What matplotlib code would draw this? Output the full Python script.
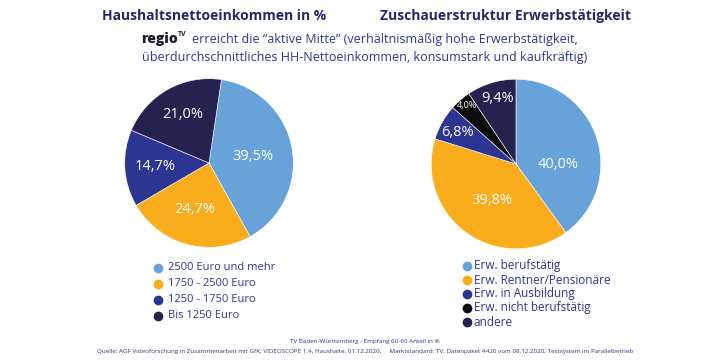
import math
import matplotlib
matplotlib.use("Agg")
import matplotlib.pyplot as plt

W, H = 728, 360

# data
income_labels = ["2500 Euro und mehr", "1750 - 2500 Euro", "1250 - 1750 Euro", "Bis 1250 Euro"]
income_values = [39.5, 24.7, 14.7, 21.0]
income_text = ["39,5%", "24,7%", "14,7%", "21,0%"]

job_labels = ["Erw. berufstätig", "Erw. Rentner/Pensionäre", "Erw. in Ausbildung",
              "Erw. nicht berufstätig", "andere"]
job_values = [40.0, 39.8, 6.8, 4.0, 9.4]
job_text = ["40,0%", "39,8%", "6,8%", "4,0%", "9,4%"]

LIGHT = "#67a3d8"
ORANGE = "#f9ad1c"
BLUE = "#2c3591"
NAVY = "#25224f"
BLACK = "#0b0b0b"
TITLE = "#1f2a6c"
TEXT = "#2e3590"

plt.rcParams['font.family'] = ['Open Sans', 'DejaVu Sans']

fig = plt.figure(figsize=(W / 100, H / 100), dpi=100)
fig.patch.set_facecolor("white")


def px(x, y):
    return x / W, 1 - y / H


def pie(cx, cy, r, values, colors, texts, start, dists, offs, sizes):
    ax = fig.add_axes([(cx - r) / W, 1 - (cy + r) / H, 2 * r / W, 2 * r / H])
    wedges, _ = ax.pie(values, colors=colors, startangle=start, counterclock=False,
                       radius=1, wedgeprops=dict(edgecolor="white", linewidth=0.4))
    ax.set_xlim(-1.02, 1.02)
    ax.set_ylim(-1.02, 1.02)
    ax.axis("off")
    for w, t, d, o, s in zip(wedges, texts, dists, offs, sizes):
        mid = math.radians((w.theta1 + w.theta2) / 2 + o)
        ax.text(d * math.cos(mid), d * math.sin(mid), t, color="white",
                fontsize=s, ha="center", va="center")
    return ax


pie(209, 163, 86, income_values, [LIGHT, ORANGE, BLUE, NAVY], income_text, 81.5,
    [0.53, 0.58, 0.64, 0.66], [-2, -1, 0, -1], [10.5, 10.5, 10.5, 10.5])
pie(516, 164, 86.5, job_values, [LIGHT, ORANGE, BLUE, BLACK, NAVY], job_text, 90,
    [0.5, 0.51, 0.79, 0.9, 0.8], [-19, 2, 1, -1, -1], [10.5, 10.5, 10.5, 6.5, 10.5])

# titles
fig.text(*px(214, 16), "Haushaltsnettoeinkommen in %", ha="center", va="center",
         fontsize=10, fontweight="bold", color=TITLE)
fig.text(*px(505, 16), "Zuschauerstruktur Erwerbstätigkeit", ha="center", va="center",
         fontsize=10, fontweight="bold", color=TITLE)

# subtitle with the regio logo
logo = fig.text(*px(141, 39), "regio", ha="left", va="center", fontsize=10,
                fontweight="heavy", color="#1c1c30")
fig.canvas.draw()
ext = logo.get_window_extent()
fig.text(ext.x1 / W, 1 - 34 / H, "TV", ha="left", va="center", fontsize=5,
         fontweight="bold", color="#1c1c30")
fig.text(*px(192, 39), "erreicht die “aktive Mitte” (verhältnismäßig hohe Erwerbstätigkeit,",
         ha="left", va="center", fontsize=9, color=TEXT)
fig.text(*px(142, 58), "überdurchschnittliches HH-Nettoeinkommen, konsumstark und kaufkräftig)",
         ha="left", va="center", fontsize=9, color=TEXT)

# legends
for i, (lab, c) in enumerate(zip(income_labels, [LIGHT, ORANGE, BLUE, NAVY])):
    y = 268 + i * 16
    fig.lines.append(plt.Line2D([px(158, y)[0]], [px(158, y)[1]], marker="o",
                                markersize=6, color=c, transform=fig.transFigure))
    fig.text(*px(168, y), lab, ha="left", va="center", fontsize=8, color=TEXT)

for i, (lab, c) in enumerate(zip(job_labels, [LIGHT, ORANGE, BLUE, BLACK, NAVY])):
    y = 266 + i * 14
    fig.lines.append(plt.Line2D([px(467, y)[0]], [px(467, y)[1]], marker="o",
                                markersize=6, color=c, transform=fig.transFigure))
    fig.text(*px(474, y), lab, ha="left", va="center", fontsize=8.5, color=TEXT)

# footer
fig.text(*px(365, 342), "TV Baden-Württemberg - Empfang 60-60 Anteil in %",
         ha="center", va="center", fontsize=4.5, color=TEXT)
fig.text(*px(365, 352),
         "Quelle: AGF Videoforschung in Zusammenarbeit mit GfK; VIDEOSCOPE 1.4, Haushalte, 01.12.2020,     "
         "Marktstandard: TV, Datenpaket 4426 vom 08.12.2020, Testsystem im Parallelbetrieb",
         ha="center", va="center", fontsize=4.5, color=TEXT)

fig.savefig("out.png", dpi=100, facecolor="white")
